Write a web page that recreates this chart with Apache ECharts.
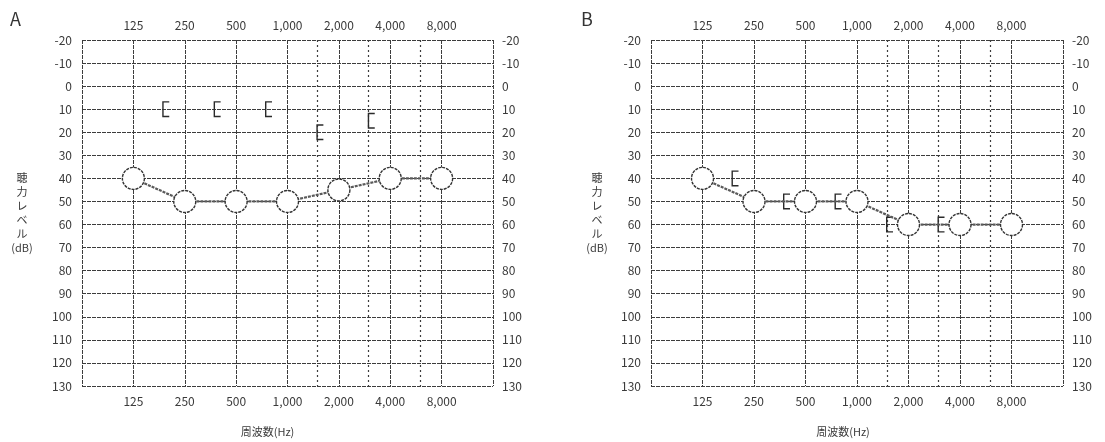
<!DOCTYPE html>
<html><head><meta charset="utf-8">
<script src="https://cdn.jsdelivr.net/npm/echarts@6/dist/echarts.min.js"></script>
<style>html,body{margin:0;padding:0;background:#fff}#c{width:1105px;height:442px}</style>
</head><body><div id="c"></div>
<script>
const freqs = [125, 250, 500, 1000, 2000, 4000, 8000];
const freqLabels = ['125', '250', '500', '1,000', '2,000', '4,000', '8,000'];
const midFreqs = [1500, 3000, 6000];
const airA = [40, 50, 50, 50, 45, 40, 40];
const boneFreqsA = [250, 500, 1000, 2000, 4000];
const boneA = [10, 10, 10, 20, 15];
const airB = [40, 50, 50, 50, 60, 60, 60];
const boneFreqsB = [250, 500, 1000, 2000, 4000];
const boneB = [40, 50, 50, 60, 60];
const panelTitles = ['A', 'B'];
const yName = '聴\n力\nレ\nベ\nル\n(dB)';
const xName = '周波数(Hz)';

const oct = f => Math.log2(f / 125);
const FONT = 'Noto Sans CJK JP';
const TXT = '#3a3a3a';
const GRID = '#3c3c3c';

const grids = [
  {left: 82, top: 40, width: 411, height: 353},
  {left: 651, top: 40, width: 412, height: 353}
];
const xAxes = [], yAxes = [], series = [];
const nameGaps = [60, 54];
const namePad = [[0, 40, 0, 0], [0, 28, 0, 0]];
[0, 1].forEach(i => {
  const lbl = {fontFamily: FONT, fontSize: 12, color: TXT,
    formatter: v => { const k = Math.round(v); return (k >= 0 && k < freqLabels.length) ? freqLabels[k] : ''; }};
  xAxes.push({type: 'value', gridIndex: i, position: 'bottom', min: -1, max: 7, interval: 1,
    axisLine: {show: false}, axisTick: {show: false},
    axisLabel: Object.assign({margin: 9}, lbl),
    splitLine: {show: true, lineStyle: {color: GRID, width: 1, type: [4, 1]}},
    name: xName, nameLocation: 'middle', nameGap: 40,
    nameTextStyle: {fontFamily: FONT, fontSize: 11, color: TXT, padding: namePad[i]}});
  xAxes.push({type: 'value', gridIndex: i, position: 'top', min: -1, max: 7, interval: 1,
    axisLine: {show: false}, axisTick: {show: false},
    axisLabel: Object.assign({margin: 9}, lbl), splitLine: {show: false}});
  const ylbl = {fontFamily: FONT, fontSize: 12, color: TXT};
  yAxes.push({type: 'value', gridIndex: i, position: 'left', inverse: true, min: -20, max: 130, interval: 10,
    axisLine: {show: false}, axisTick: {show: false},
    axisLabel: Object.assign({margin: 10}, ylbl),
    splitLine: {show: true, lineStyle: {color: GRID, width: 1, type: [4, 1]}},
    name: yName, nameLocation: 'middle', nameRotate: 0, nameGap: nameGaps[i],
    nameTextStyle: {fontFamily: FONT, fontSize: 11, color: TXT, align: 'center', verticalAlign: 'middle', lineHeight: 14}});
  yAxes.push({type: 'value', gridIndex: i, position: 'right', inverse: true, min: -20, max: 130, interval: 10,
    axisLine: {show: false}, axisTick: {show: false},
    axisLabel: Object.assign({margin: 9}, ylbl), splitLine: {show: false}});
});

const airs = [airA, airB];
const boneFs = [boneFreqsA, boneFreqsB];
const bones = [boneA, boneB];
const bracket = 'path://M0,0 L7,0 L7,1.4 L1.4,1.4 L1.4,14.6 L7,14.6 L7,16 L0,16 Z';
[0, 1].forEach(i => {
  const xi = i * 2, yi = i * 2;
  series.push({type: 'line', xAxisIndex: xi, yAxisIndex: yi, silent: true,
    data: midFreqs.map(f => [oct(f), 130]), symbol: 'none', lineStyle: {opacity: 0},
    markLine: {silent: true, symbol: 'none', label: {show: false},
      lineStyle: {color: GRID, width: 1.2, type: [2, 3]},
      data: midFreqs.map(f => ({xAxis: oct(f)}))}});
  series.push({type: 'line', xAxisIndex: xi, yAxisIndex: yi, z: 5,
    data: boneFs[i].map((f, k) => [oct(f), bones[i][k]]),
    symbol: bracket, symbolSize: [7, 16], symbolOffset: [-19, 0],
    lineStyle: {opacity: 0}, itemStyle: {color: '#2a2a2a'}});
  series.push({type: 'line', xAxisIndex: xi, yAxisIndex: yi, z: 6,
    data: freqs.map((f, k) => [oct(f), airs[i][k]]),
    symbol: 'circle', symbolSize: 22,
    lineStyle: {color: '#5a5a5a', width: 2.2, type: [3, 1]},
    itemStyle: {color: '#ffffff', borderColor: '#333333', borderWidth: 1.4, borderType: [3, 1]}});
});

const chart = echarts.init(document.getElementById('c'), null, {renderer: 'canvas'});
chart.setOption({
  animation: false,
  backgroundColor: '#ffffff',
  grid: grids,
  xAxis: xAxes,
  yAxis: yAxes,
  series: series,
  graphic: [
    {type: 'text', left: 10, top: 10, style: {text: panelTitles[0], font: '18px ' + FONT, fill: '#333'}},
    {type: 'text', left: 581, top: 10, style: {text: panelTitles[1], font: '18px ' + FONT, fill: '#333'}}
  ]
});
</script></body></html>
